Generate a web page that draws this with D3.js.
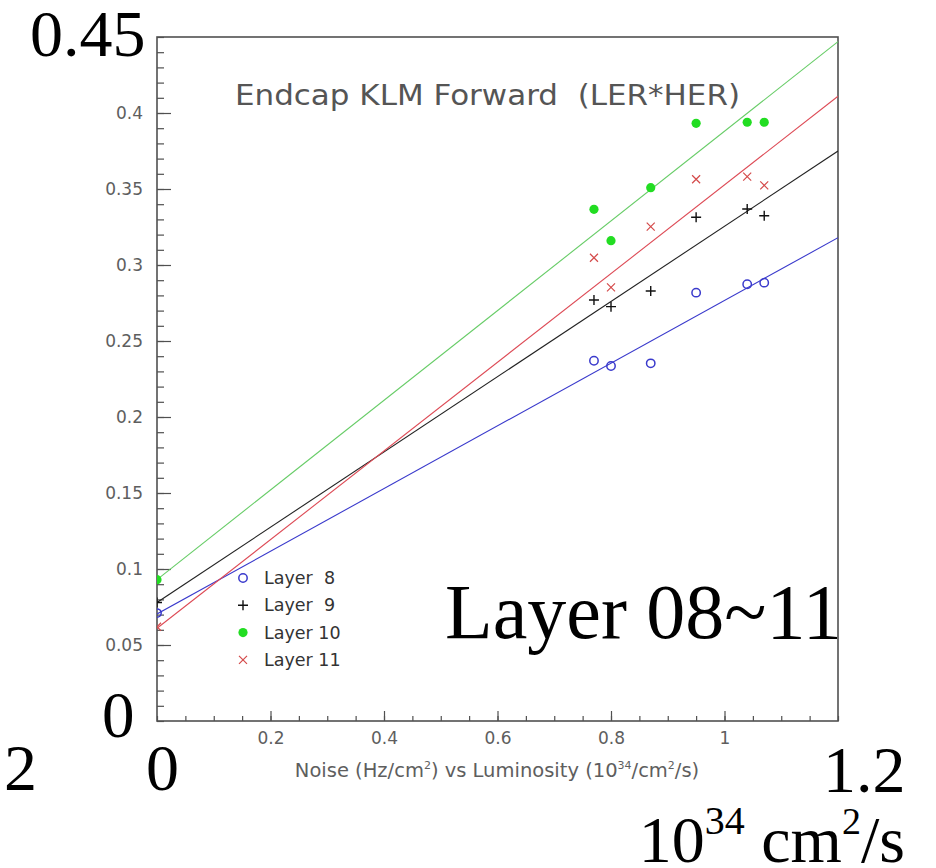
<!DOCTYPE html>
<html>
<head>
<meta charset="utf-8">
<script src="https://cdn.jsdelivr.net/npm/d3@7"></script>
<style>
  html, body { margin: 0; padding: 0; background: #fff; }
  svg { display: block; }
  text { white-space: pre; }
</style>
</head>
<body>
<svg id="chart" width="936" height="868"></svg>
<script>
// Luminosity values (10^34 /cm^2/s) at which the noise was measured
const lumi = [0, 0.77, 0.80, 0.87, 0.95, 1.04, 1.07];

// Measured noise per layer
const layer8  = [0.071, 0.237, 0.2336, 0.2353, 0.2818, 0.2873, 0.2884];
const layer9  = [0.078, 0.277, 0.2726, 0.2829, 0.3314, 0.3368, 0.3324];
const layer10 = [0.093, 0.3366, 0.316, 0.3509, 0.3932, 0.3939, 0.3939];
const layer11 = [0.062, 0.3048, 0.2853, 0.3252, 0.3564, 0.3581, 0.3524];

// Straight-line fits: [intercept, slope]
const fit8  = [0.0704, 0.2063];
const fit9  = [0.078, 0.2475];
const fit10 = [0.093, 0.295];
const fit11 = [0.061, 0.2917];

const seriesNames  = ["Layer  8", "Layer  9", "Layer 10", "Layer 11"];
const markerKinds  = ["openCircle", "plus", "dot", "cross"];
const markerColors = ["#3a3acc", "#111111", "#22dd22", "#d44a4a"];
const lineColors   = ["#3a3acc", "#222222", "#66cc66", "#dd4a55"];

// Axis ticks and labels
const xMajorTicks = [0.2, 0.4, 0.6, 0.8, 1];
const xTickLabels = ["0.2", "0.4", "0.6", "0.8", "1"];
const yMajorTicks = [0.05, 0.1, 0.15, 0.2, 0.25, 0.3, 0.35, 0.4];
const yTickLabels = ["0.05", "0.1", "0.15", "0.2", "0.25", "0.3", "0.35", "0.4"];

const title = "Endcap KLM Forward  (LER*HER)";

const svg = d3.select("#chart");
const x = d3.scaleLinear().domain([0, 1.2]).range([157, 838]);
const y = d3.scaleLinear().domain([0, 0.45]).range([721, 37]);

const axisColor = "#505050";
const labelColor = "#5e5e5e";
const sansFont = "DejaVu Sans, sans-serif";
const serifFont = "Liberation Serif, Times New Roman, serif";

// Clip region for the plot body
svg.append("defs").append("clipPath").attr("id", "plotClip")
  .append("rect")
  .attr("x", x(0)).attr("y", y(0.45))
  .attr("width", x(1.2) - x(0)).attr("height", y(0) - y(0.45));

// Minor ticks (y every 0.01, x every 0.05)
const yMinor = d3.range(0, 46).map(i => i / 100);
const xMinor = d3.range(0, 25).map(i => i * 0.05);

svg.append("g")
  .attr("transform", `translate(${x(0)},0)`)
  .call(d3.axisLeft(y).tickValues(yMinor).tickSize(-7).tickFormat(""))
  .call(g => g.select(".domain").remove())
  .call(g => g.selectAll("line").attr("stroke", axisColor).attr("stroke-width", 1.2));

svg.append("g")
  .attr("transform", `translate(0,${y(0)})`)
  .call(d3.axisBottom(x).tickValues(xMinor).tickSize(-5).tickFormat(""))
  .call(g => g.select(".domain").remove())
  .call(g => g.selectAll("line").attr("stroke", axisColor).attr("stroke-width", 1.2));

// Major ticks with labels
svg.append("g")
  .attr("transform", `translate(${x(0)},0)`)
  .call(d3.axisLeft(y).tickValues(yMajorTicks).tickSize(-14).tickPadding(14)
    .tickFormat((d, i) => yTickLabels[i]))
  .call(g => g.select(".domain").remove())
  .call(g => g.selectAll("line").attr("stroke", axisColor).attr("stroke-width", 1.2))
  .call(g => g.selectAll("text").attr("font-family", sansFont).attr("font-size", 17)
    .attr("fill", labelColor));

svg.append("g")
  .attr("transform", `translate(0,${y(0)})`)
  .call(d3.axisBottom(x).tickValues(xMajorTicks).tickSize(-10).tickPadding(8)
    .tickFormat((d, i) => xTickLabels[i]))
  .call(g => g.select(".domain").remove())
  .call(g => g.selectAll("line").attr("stroke", axisColor).attr("stroke-width", 1.2))
  .call(g => g.selectAll("text").attr("font-family", sansFont).attr("font-size", 17)
    .attr("fill", labelColor).attr("dy", "0.9em"));

// Frame
svg.append("rect")
  .attr("x", x(0)).attr("y", y(0.45))
  .attr("width", x(1.2) - x(0)).attr("height", y(0) - y(0.45))
  .attr("fill", "none").attr("stroke", axisColor).attr("stroke-width", 1.6);

// Marker drawing
function drawMarker(sel, kind, color) {
  if (kind === "openCircle") {
    sel.append("circle").attr("r", 4.2).attr("fill", "none")
      .attr("stroke", color).attr("stroke-width", 1.5);
  } else if (kind === "dot") {
    sel.append("circle").attr("r", 4.6).attr("fill", color);
  } else if (kind === "plus") {
    sel.append("path").attr("d", "M-5,0H5M0,-5V5")
      .attr("stroke", color).attr("stroke-width", 1.4);
  } else if (kind === "cross") {
    sel.append("path").attr("d", "M-4,-4L4,4M-4,4L4,-4")
      .attr("stroke", color).attr("stroke-width", 1.2);
  }
}

const plot = svg.append("g").attr("clip-path", "url(#plotClip)");
const allSeries = [layer8, layer9, layer10, layer11];
const allFits = [fit8, fit9, fit10, fit11];

// Fit lines
allFits.forEach((f, i) => {
  const line = d3.line().x(d => x(d)).y(d => y(f[0] + f[1] * d));
  plot.append("path").datum([0, 1.2])
    .attr("d", line).attr("fill", "none")
    .attr("stroke", lineColors[i]).attr("stroke-width", 1.1);
});

// Data points
allSeries.forEach((vals, i) => {
  vals.forEach((v, j) => {
    const g = plot.append("g").attr("transform", `translate(${x(lumi[j])},${y(v)})`);
    drawMarker(g, markerKinds[i], markerColors[i]);
  });
});

// Title
svg.append("text")
  .attr("x", 235).attr("y", 105)
  .attr("font-family", sansFont).attr("font-size", 28)
  .attr("textLength", 505).attr("lengthAdjust", "spacingAndGlyphs")
  .attr("fill", "#555").text(title);

// Legend
seriesNames.forEach((name, i) => {
  const yy = 578 + i * 27.3;
  const g = svg.append("g").attr("transform", `translate(243,${yy})`);
  drawMarker(g, markerKinds[i], markerColors[i]);
  svg.append("text").attr("x", 264).attr("y", yy).attr("dy", "0.35em")
    .attr("font-family", sansFont).attr("font-size", 17.5)
    .attr("fill", "#333").text(name);
});

// X axis title
const xt = svg.append("text").attr("x", 497).attr("y", 777)
  .attr("text-anchor", "middle")
  .attr("font-family", sansFont).attr("font-size", 19.5).attr("fill", labelColor);
xt.append("tspan").text("Noise (Hz/cm");
xt.append("tspan").attr("font-size", 11).attr("dy", -8).text("2");
xt.append("tspan").attr("dy", 8).text(") vs Luminosity (10");
xt.append("tspan").attr("font-size", 11).attr("dy", -8).text("34");
xt.append("tspan").attr("dy", 8).text("/cm");
xt.append("tspan").attr("font-size", 11).attr("dy", -8).text("2");
xt.append("tspan").attr("dy", 8).text("/s)");

// Large annotations
function bigText(str, xx, yy, size, anchor) {
  return svg.append("text").attr("x", xx).attr("y", yy)
    .attr("font-family", serifFont).attr("font-size", size)
    .attr("text-anchor", anchor || "start").attr("fill", "#000").text(str);
}
bigText("0.45", 30, 56, 66);
bigText("0", 102, 737, 65);
bigText("2", 4, 790, 66);
bigText("0", 146, 790, 66);
bigText("1.2", 823, 792, 66);
bigText("Layer 08~11", 445, 638, 78);

const unit = svg.append("text").attr("x", 905).attr("y", 862)
  .attr("text-anchor", "end")
  .attr("font-family", serifFont).attr("font-size", 66).attr("fill", "#000");
unit.append("tspan").text("10");
unit.append("tspan").attr("font-size", 40).attr("dy", -28).text("34");
unit.append("tspan").attr("dy", 28).text(" cm");
unit.append("tspan").attr("font-size", 38).attr("dy", -28).text("2");
unit.append("tspan").attr("dy", 28).text("/s");
</script>
</body>
</html>
